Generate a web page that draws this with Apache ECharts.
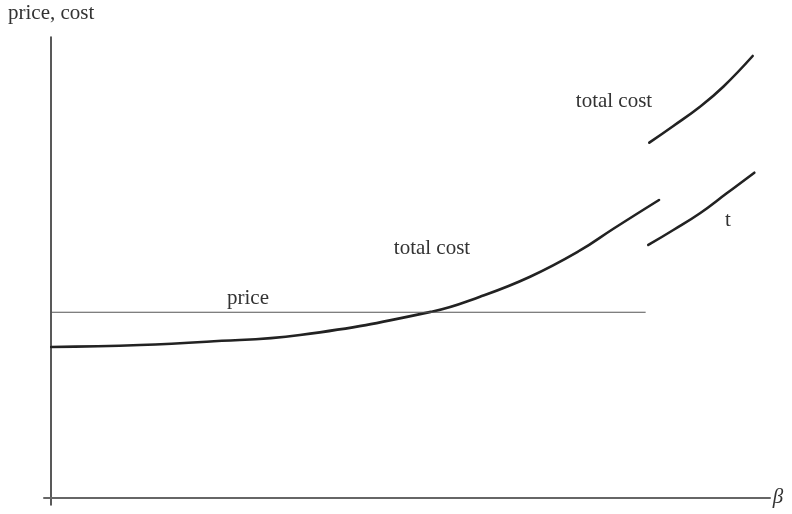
<!DOCTYPE html>
<html>
<head>
<meta charset="utf-8">
<script src="https://cdn.jsdelivr.net/npm/echarts@6/dist/echarts.min.js"></script>
<style>
html,body{margin:0;padding:0;background:#fff;}
#chart{width:792px;height:514px;}
</style>
</head>
<body>
<div id="chart"></div>
<script>
// β positions (x) and price/cost values (y)
const totalCostX = [0, 12.35, 21.63, 34.61, 52.94, 59.66, 66.62, 73.57, 78.16, 84.56];
const totalCostY = [32.77, 33.20, 33.92, 35.37, 40.43, 43.68, 48.01, 53.70, 58.36, 64.65];
const priceX = [0, 82.7];
const priceY = [40.3, 40.3];
const upperCostX = [83.21, 86.55, 90.26, 93.50, 97.59];
const upperCostY = [77.08, 80.70, 84.88, 89.22, 95.88];
const tX = [83.07, 86.55, 90.26, 93.98, 97.82];
const tY = [54.89, 58.14, 61.77, 66.10, 70.57];
const labels = { yName: 'price, cost', xName: 'β', upper: 'total cost', middle: 'total cost', price: 'price', t: 't' };

const zip = (xs, ys) => xs.map((x, i) => [x, ys[i]]);
const serif = '"Liberation Serif", "DejaVu Serif", serif';

// smooth curve drawn through the library's scales (api.coord)
function curveSeries(xs, ys) {
  const pts = zip(xs, ys);
  return {
    type: 'custom',
    data: pts,
    clip: false,
    renderItem: function (params, api) {
      if (params.dataIndex !== 0) return null;
      return {
        type: 'polyline',
        shape: { points: pts.map(p => api.coord(p)), smooth: 0.45 },
        style: { stroke: '#222', lineWidth: 2.6, fill: null, lineCap: 'round' }
      };
    }
  };
}

const chart = echarts.init(document.getElementById('chart'), null, { renderer: 'canvas' });
chart.setOption({
  animation: false,
  grid: { left: 44, right: 22, top: 37, bottom: 9 },
  xAxis: {
    type: 'value', min: -1, max: 100,
    axisLine: { onZero: true, lineStyle: { color: '#666', width: 2 } },
    axisTick: { show: false }, axisLabel: { show: false }, splitLine: { show: false }
  },
  yAxis: {
    type: 'value', min: -1.5, max: 100,
    axisLine: { onZero: true, lineStyle: { color: '#222', width: 1.5 } },
    axisTick: { show: false }, axisLabel: { show: false }, splitLine: { show: false }
  },
  series: [
    { type: 'line', data: zip(priceX, priceY), symbol: 'none', lineStyle: { color: '#555', width: 1.2 } },
    curveSeries(totalCostX, totalCostY),
    curveSeries(upperCostX, upperCostY),
    curveSeries(tX, tY)
  ],
  graphic: [
    { type: 'text', left: 8, top: 3, style: { text: labels.yName, font: '21px ' + serif, fill: '#333' } },
    { type: 'text', x: 614, y: 101, style: { text: labels.upper, font: '21px ' + serif, fill: '#333', align: 'center', verticalAlign: 'middle' } },
    { type: 'text', x: 432, y: 248, style: { text: labels.middle, font: '21px ' + serif, fill: '#333', align: 'center', verticalAlign: 'middle' } },
    { type: 'text', x: 248, y: 298, style: { text: labels.price, font: '21px ' + serif, fill: '#333', align: 'center', verticalAlign: 'middle' } },
    { type: 'text', x: 728, y: 220, style: { text: labels.t, font: '21px ' + serif, fill: '#333', align: 'center', verticalAlign: 'middle' } },
    { type: 'text', x: 778, y: 497, style: { text: labels.xName, font: 'italic 21px ' + serif, fill: '#333', align: 'center', verticalAlign: 'middle' } }
  ]
});
</script>
</body>
</html>
